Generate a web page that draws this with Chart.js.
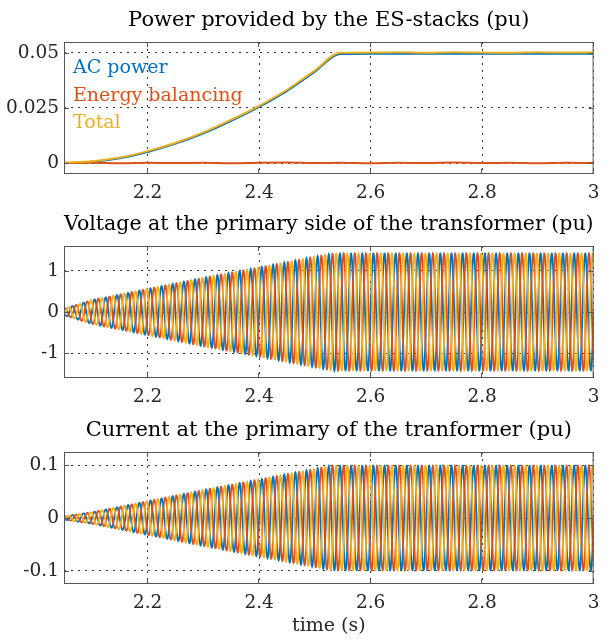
<!DOCTYPE html>
<html>
<head>
<meta charset="utf-8">
<script src="https://cdn.jsdelivr.net/npm/chart.js@4/dist/chart.umd.min.js"></script>
<style>
  html, body { margin: 0; padding: 0; background: #fff; }
  #page { position: relative; width: 608px; height: 640px; }
  #page canvas { position: absolute; left: 0; }
</style>
</head>
<body>
<div id="page">
  <canvas id="powerChart" width="608" height="205" style="top:0px"></canvas>
  <canvas id="voltageChart" width="608" height="205" style="top:204px"></canvas>
  <canvas id="currentChart" width="608" height="230" style="top:410px"></canvas>
</div>
<script>
// time axis (s)
const TIME_START = 2.05;
const TIME_END = 3;
const X_TICKS = [2.2, 2.4, 2.6, 2.8, 3];
const X_TICK_LABELS = ['2.2', '2.4', '2.6', '2.8', '3'];

// power of the ES-stacks (pu)
const POWER_T = [2.05, 2.1, 2.15, 2.2, 2.25, 2.3, 2.35, 2.4, 2.45, 2.5, 2.545,
                 2.6, 2.65, 2.7, 2.75, 2.8, 2.85, 2.9, 2.95, 3];
const AC_POWER = [0, 0.0006, 0.0022, 0.005, 0.0088, 0.0135, 0.0192, 0.0255, 0.0328, 0.0415, 0.0496,
                  0.0497, 0.0497, 0.0497, 0.0497, 0.0497, 0.0497, 0.0497, 0.0497, 0.0497];
const ENERGY_BALANCING = [0, 0.0001, -0.0001, 0.0001, 0, 0.0001, -0.0001, 0.0001, 0.0002, 0, 0.0001,
                          -0.0001, 0.0001, 0, 0.0002, 0, 0.0001, -0.0001, 0.0001, 0];
const TOTAL_POWER = [0.0001, 0.0008, 0.0025, 0.0054, 0.0092, 0.0139, 0.0197, 0.026, 0.0333, 0.0421, 0.0501,
                     0.0502, 0.0503, 0.0501, 0.0503, 0.0502, 0.0501, 0.0503, 0.0502, 0.0503];
const POWER_Y_TICKS = [0, 0.025, 0.05];
const POWER_Y_LABELS = ['0', '0.025', '0.05'];

// three-phase quantities: 50 Hz carrier, amplitude envelope in pu
const GRID_FREQ = 50;
const PHASE_SHIFT_DEG = [0, -120, 120];
const SAMPLE_STEP = 0.0005;
const VOLT_ENV_T = [2.05, 2.1, 2.2, 2.3, 2.4, 2.5, 2.535, 3];
const VOLT_ENV = [0.08, 0.29, 0.56, 0.83, 1.08, 1.34, 1.42, 1.42];
const VOLT_Y_TICKS = [-1, 0, 1];
const VOLT_Y_LABELS = ['-1', '0', '1'];
const CURR_ENV_T = [2.05, 2.1, 2.2, 2.3, 2.4, 2.5, 2.53, 3];
const CURR_ENV = [0.003, 0.011, 0.032, 0.053, 0.073, 0.093, 0.099, 0.099];
const CURR_Y_TICKS = [-0.1, 0, 0.1];
const CURR_Y_LABELS = ['-0.1', '0', '0.1'];

const BLUE = '#0072BD';
const ORANGE = '#D95319';
const YELLOW = '#EDB120';
const TEXT = '#262626';
const FRAME = '#555555';
const GRID = '#3a3a3a';
const FONT = "'DejaVu Serif', serif";

Chart.defaults.font.family = FONT;
Chart.defaults.color = TEXT;

function envelopeAt(t, knotsT, knotsA) {
	if (t <= knotsT[0]) return knotsA[0];
	for (let i = 1; i < knotsT.length; i++) {
		if (t <= knotsT[i]) {
			const f = (t - knotsT[i - 1]) / (knotsT[i] - knotsT[i - 1]);
			return knotsA[i - 1] + f * (knotsA[i] - knotsA[i - 1]);
		}
	}
	return knotsA[knotsA.length - 1];
}

// one {x,y} list per phase
function threePhase(knotsT, knotsA) {
	const phases = PHASE_SHIFT_DEG.map(() => []);
	const n = Math.round((TIME_END - TIME_START) / SAMPLE_STEP);
	for (let k = 0; k <= n; k++) {
		const t = TIME_START + k * SAMPLE_STEP;
		const amp = envelopeAt(t, knotsT, knotsA);
		PHASE_SHIFT_DEG.forEach((deg, p) => {
			const ang = 2 * Math.PI * GRID_FREQ * t + deg * Math.PI / 180;
			phases[p].push({ x: t, y: amp * Math.sin(ang) });
		});
	}
	return phases;
}

function toPoints(ts, ys) {
	return ts.map((t, i) => ({ x: t, y: ys[i] }));
}

// box with inward ticks on all four sides
const axesBox = {
	id: 'axesBox',
	afterDraw(chart) {
		const { ctx, chartArea: a, scales } = chart;
		const tick = 5;
		ctx.save();
		ctx.strokeStyle = FRAME;
		ctx.lineWidth = 1;
		ctx.beginPath();
		X_TICKS.forEach(v => {
			const px = Math.round(scales.x.getPixelForValue(v)) - 0.5;
			ctx.moveTo(px, a.bottom); ctx.lineTo(px, a.bottom - tick);
			ctx.moveTo(px, a.top); ctx.lineTo(px, a.top + tick);
		});
		chart.options.plugins.axesBox.yTicks.forEach(v => {
			const py = Math.round(scales.y.getPixelForValue(v)) + 0.5;
			ctx.moveTo(a.left, py); ctx.lineTo(a.left + tick, py);
			ctx.moveTo(a.right, py); ctx.lineTo(a.right - tick, py);
		});
		ctx.stroke();
		ctx.strokeRect(a.left + 0.5, a.top + 0.5, a.right - a.left - 1, a.bottom - a.top - 1);
		ctx.restore();
	}
};

// coloured series names inside the axes, no symbols
const textLegend = {
	id: 'textLegend',
	afterDatasetsDraw(chart, args, opts) {
		if (!opts.items) return;
		const { ctx, chartArea: a } = chart;
		ctx.save();
		ctx.font = '19px ' + FONT;
		ctx.textAlign = 'left';
		ctx.textBaseline = 'alphabetic';
		opts.items.forEach((item, i) => {
			ctx.fillStyle = item.color;
			ctx.fillText(item.text, a.left + 9, a.top + 31 + i * 27.5);
		});
		ctx.restore();
	}
};

function buildOptions(title, yMin, yMax, yTicks, yLabels, xTitle, legendItems) {
	return {
		responsive: false,
		animation: false,
		events: [],
		layout: { padding: { left: 0, right: 12, top: 0, bottom: 0 } },
		plugins: {
			legend: { display: false },
			tooltip: { enabled: false },
			title: {
				display: true,
				fullSize: false,
				text: title,
				color: '#000',
				font: { size: 21, weight: 'normal' },
				padding: { top: 8.4, bottom: 8.4 }
			},
			axesBox: { yTicks: yTicks },
			textLegend: { items: legendItems }
		},
		scales: {
			x: {
				type: 'linear',
				min: TIME_START,
				max: TIME_END,
				z: 1,
				afterBuildTicks: axis => { axis.ticks = X_TICKS.map(v => ({ value: v })); },
				afterFit: axis => { axis.height = xTitle ? 56 : 31; },
				ticks: {
					autoSkip: false,
					maxRotation: 0,
					padding: 8.5,
					color: TEXT,
					font: { size: 18.5 },
					callback: (v, i) => X_TICK_LABELS[i]
				},
				grid: { color: GRID, lineWidth: 1, drawTicks: false },
				border: { display: false, dash: [2, 5] },
				title: {
					display: !!xTitle,
					text: xTitle || '',
					color: TEXT,
					font: { size: 19 },
					padding: { top: 0, bottom: 2.5 }
				}
			},
			y: {
				type: 'linear',
				min: yMin,
				max: yMax,
				z: 1,
				afterBuildTicks: axis => { axis.ticks = yTicks.map(v => ({ value: v })); },
				afterFit: axis => { axis.width = 64; },
				ticks: {
					padding: 5,
					color: TEXT,
					font: { size: 18.5 },
					callback: (v, i) => yLabels[i]
				},
				grid: { color: GRID, lineWidth: 1, drawTicks: false },
				border: { display: false, dash: [2, 5] }
			}
		}
	};
}

// smooth: monotone cubic through the read-off points
function powerSet(label, data, color, order) {
	return {
		label: label,
		data: data,
		borderColor: color,
		backgroundColor: color,
		borderWidth: 2,
		pointRadius: 0,
		cubicInterpolationMode: 'monotone',
		order: order
	};
}

// a tiny tension keeps Chart.js off its per-pixel fast path, which steps dense waves
function waveSet(label, data, color, order) {
	return {
		label: label,
		data: data,
		borderColor: color,
		backgroundColor: color,
		borderWidth: 1.8,
		pointRadius: 0,
		tension: 0.001,
		order: order
	};
}

// Power provided by the ES-stacks
new Chart(document.getElementById('powerChart'), {
	type: 'line',
	data: {
		datasets: [
			powerSet('AC power', toPoints(POWER_T, AC_POWER), BLUE, 3),
			powerSet('Energy balancing', toPoints(POWER_T, ENERGY_BALANCING), ORANGE, 2),
			powerSet('Total', toPoints(POWER_T, TOTAL_POWER), YELLOW, 1)
		]
	},
	options: buildOptions('Power provided by the ES-stacks (pu)', -0.005, 0.055,
		POWER_Y_TICKS, POWER_Y_LABELS, null, [
			{ text: 'AC power', color: BLUE },
			{ text: 'Energy balancing', color: ORANGE },
			{ text: 'Total', color: YELLOW }
		]),
	plugins: [axesBox, textLegend]
});

// Voltage at the primary side
const voltage = threePhase(VOLT_ENV_T, VOLT_ENV);
new Chart(document.getElementById('voltageChart'), {
	type: 'line',
	data: {
		datasets: [
			waveSet('Va', voltage[0], BLUE, 3),
			waveSet('Vb', voltage[1], ORANGE, 2),
			waveSet('Vc', voltage[2], YELLOW, 1)
		]
	},
	options: buildOptions('Voltage at the primary side of the transformer (pu)', -1.6, 1.6,
		VOLT_Y_TICKS, VOLT_Y_LABELS, null, null),
	plugins: [axesBox, textLegend]
});

// Current at the primary
const current = threePhase(CURR_ENV_T, CURR_ENV);
new Chart(document.getElementById('currentChart'), {
	type: 'line',
	data: {
		datasets: [
			waveSet('Ia', current[0], BLUE, 3),
			waveSet('Ib', current[1], ORANGE, 2),
			waveSet('Ic', current[2], YELLOW, 1)
		]
	},
	options: buildOptions('Current at the primary of the tranformer (pu)', -0.125, 0.125,
		CURR_Y_TICKS, CURR_Y_LABELS, 'time (s)', null),
	plugins: [axesBox, textLegend]
});
</script>
</body>
</html>
